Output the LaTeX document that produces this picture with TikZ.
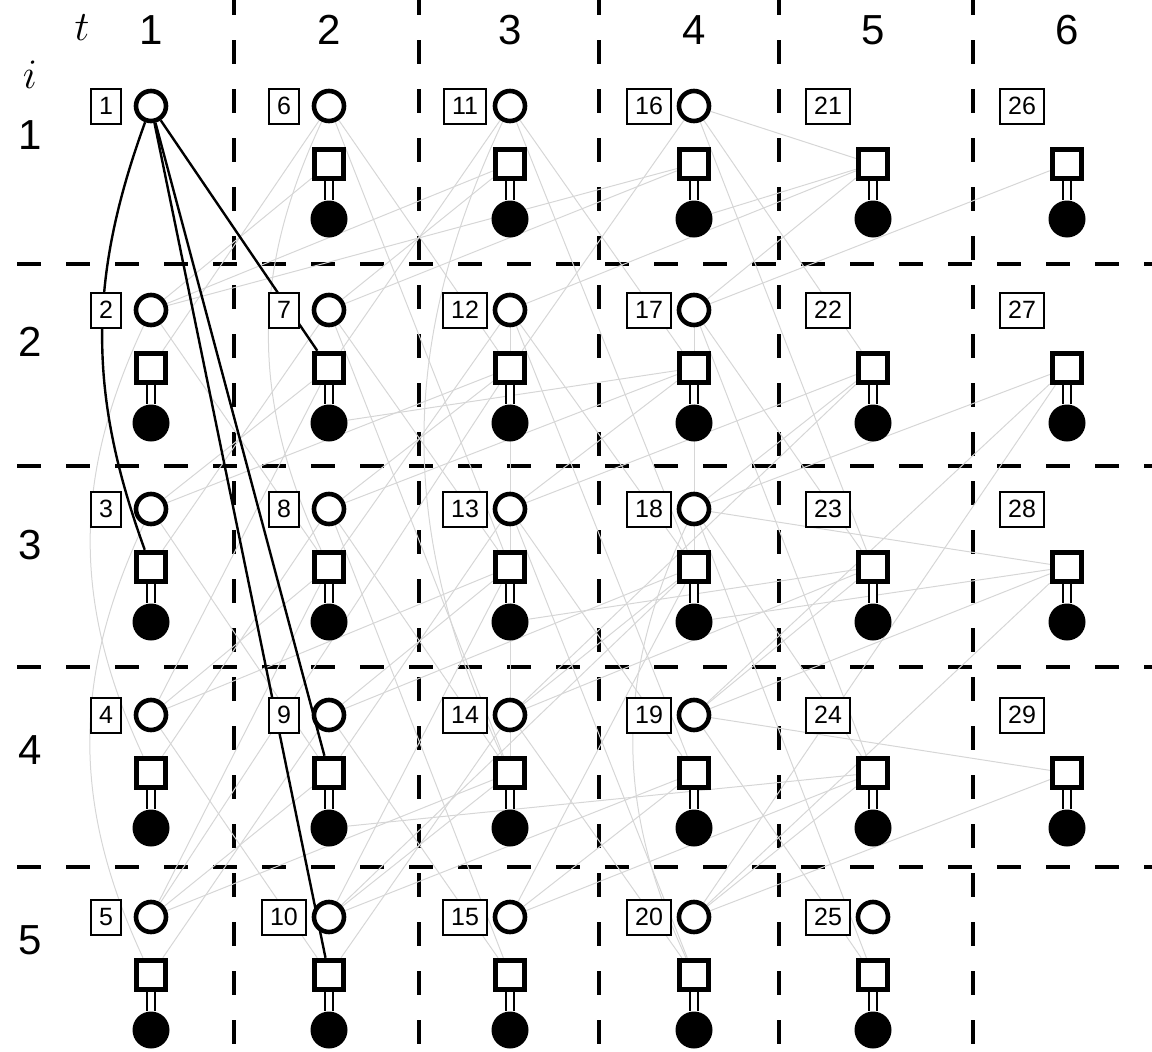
\RequirePackage{fix-cm}
\documentclass[tikz,border=0pt]{standalone}
\usepackage{fontspec}
\setmainfont{Liberation Sans}
\usetikzlibrary{positioning,backgrounds}

\begin{document}
\begin{tikzpicture}[x=1pt, y=1pt, node distance=55pt,
	hidden/.style = {draw, circle, fill=white, line width=4.6pt, minimum size=30pt, inner sep=0pt},
	decision/.style = {draw, rectangle, fill=white, line width=5.5pt, minimum size=29pt, inner sep=0pt},
	observed/.style = {circle, fill, minimum size=37pt, inner sep=0pt},
	numbox/.style = {draw, fill=white, line width=2pt, inner xsep=8pt, inner ysep=0pt, minimum height=35pt, font=\fontsize{25}{25}\selectfont},
	stemline/.style = {double, double distance=6pt, line width=2.4pt},
	faint/.style = {gray!32, line width=1pt},
	strong/.style = {black, line width=2.4pt},
	cellline/.style = {dash pattern=on 24pt off 25pt, line width=4pt},
	big/.style = {font=\fontsize{42}{42}\selectfont}]
	\useasboundingbox (0,0) rectangle (1152,-1052);

	% axes
	\node[big] (tlab) at (82,-28) {$t$};
	\node[big] (ilab) at (30,-75) {$i$};
	\foreach \t/\x in {1/151,2/329,3/510,4/694,5/873,6/1067}
		\node[big] (h\t) at (\x,-30) {\t};
	\foreach \i/\y in {1/135,2/342,3/545,4/750,5/940}
		\node[big] (r\i) at (30,-\y) {\i};

	% cells: number, circle, square and filled circle
	\foreach \t/\x in {1/151,2/329,3/510,4/694,5/873,6/1067}
	\foreach \i/\y in {1/106,2/310,3/509,4/715,5/917} {
		\pgfmathtruncatemacro\n{5*(\t-1)+\i}
		\ifnum\n<30
			\node[numbox] (b\n) at (\x-45,-\y) {\n};
		\fi
		\ifnum\n<21
			\node[hidden] (c\n) at (\x,-\y) {};
		\fi
		\ifnum\n=25
			\node[hidden] (c\n) at (\x,-\y) {};
		\fi
		\ifnum\n>1 \ifnum\n<30
			\node[decision] (s\n) at (\x,-\y-58) {};
			\node[observed] (f\n) [below of=s\n] {};
			\draw[stemline] (s\n) -- (f\n);
		\fi\fi
	}

	\begin{pgfonlayer}{background}
		% dashed cells
		\foreach \x in {234,419,599,779,973}
			\draw[cellline] (\x,9) -- (\x,-1060);
		\foreach \y in {264,466,667,867}
			\draw[cellline] (17,-\y) -- (1160,-\y);

		% grey links
		\foreach \a/\b in {6/2,6/12,6/13,11/7,11/18,11/17,16/12,16/22,16/23,16/21,
				2/11,2/8,2/6,2/16,7/3,7/16,7/14,7/13,7/11,12/21,12/8,12/19,12/18,12/14,
				17/26,17/23,17/24,17/21,17/18,3/12,3/9,3/7,8/17,8/4,8/15,8/12,8/14,
				13/22,13/9,13/20,13/17,13/19,18/27,18/24,18/22,18/28,18/25,
				4/13,4/10,4/8,4/7,9/18,9/5,9/15,9/13,14/23,14/10,14/20,14/18,14/22,
				19/28,19/25,19/29,19/23,19/27,5/8,5/14,5/9,5/12,10/19,10/14,10/13,10/18,
				15/24,15/18,15/19,20/29,20/28,20/24,20/27}
			\draw[faint] (c\a) -- (s\b);
		\foreach \a/\b in {6/8,11/14,2/4,3/5,18/20}
			\draw[faint] (c\a) to[bend right=25] (s\b);
		\foreach \a/\b in {16/21,18/28,7/17,13/23,9/24}
			\draw[faint] (f\a) -- (s\b);

		% links from the first circle
		\draw[strong] (c1) to[out=-110, in=110] (s3);
		\draw[strong] (c1) -- (s7);
		\draw[strong] (c1) -- (s9);
		\draw[strong] (c1) -- (s10);
	\end{pgfonlayer}
\end{tikzpicture}
\end{document}
